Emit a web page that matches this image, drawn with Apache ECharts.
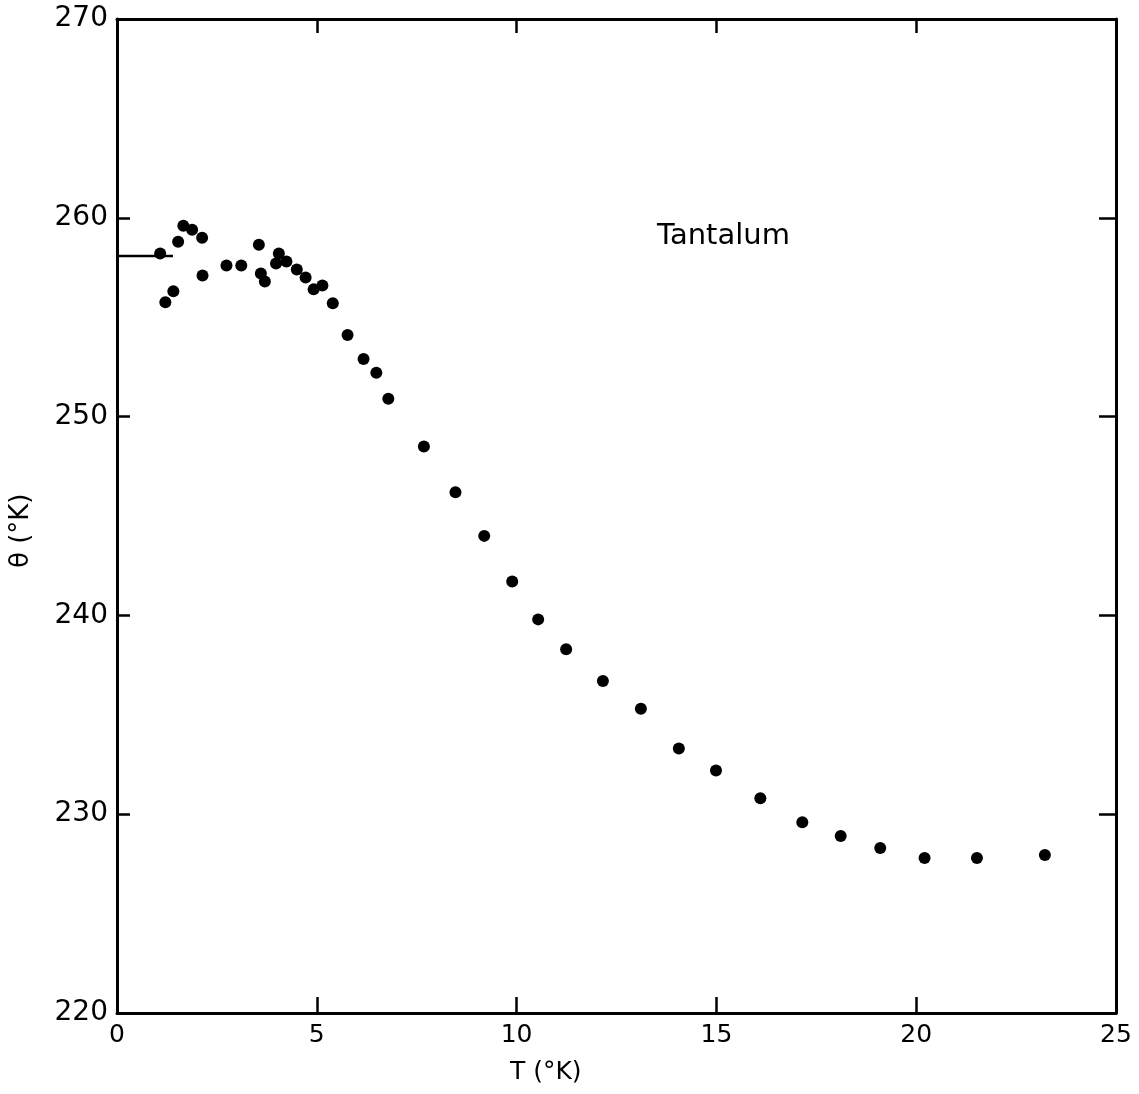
<!DOCTYPE html>
<html>
<head>
<meta charset="utf-8">
<script src="https://cdn.jsdelivr.net/npm/echarts@6/dist/echarts.min.js"></script>
<style>
html,body{margin:0;padding:0;background:#fff;}
#chart{width:1139px;height:1094px;}
</style>
</head>
<body>
<div id="chart"></div>
<script>
// Temperature T (°K)
const tValues = [1.08,1.21,1.41,1.53,1.66,1.88,2.13,2.14,2.74,3.11,3.55,3.60,3.70,3.98,4.05,4.24,4.50,4.72,4.92,5.14,5.40,5.77,6.17,6.49,6.79,7.68,8.47,9.19,9.89,10.54,11.24,12.16,13.11,14.06,14.99,16.10,17.15,18.11,19.10,20.21,21.52,23.22];
// Debye temperature θ (°K)
const thetaValues = [258.2,255.75,256.3,258.8,259.6,259.4,259.0,257.1,257.6,257.6,258.65,257.2,256.8,257.7,258.2,257.8,257.4,257.0,256.4,256.6,255.7,254.1,252.9,252.2,250.9,248.5,246.2,244.0,241.7,239.8,238.3,236.7,235.3,233.3,232.2,230.8,229.6,228.9,228.3,227.8,227.8,227.95];
// θ0 extrapolation mark at T→0
const theta0T = [0, 1.40];
const theta0Value = 258.08;
const xTicks = [0,5,10,15,20,25];
const yTicks = [220,230,240,250,260,270];

const points = tValues.map((t,i)=>[t, thetaValues[i]]);
const theta0Line = theta0T.map(t=>[t, theta0Value]);

const font = 'DejaVu Sans';
const chart = echarts.init(document.getElementById('chart'), null, {renderer:'canvas'});
const axisLine = {show:true, onZero:false, lineStyle:{color:'#000', width:3}};
chart.setOption({
  backgroundColor:'#fff',
  animation:false,
  grid:{left:117, right:23, top:19, bottom:81, show:false},
  xAxis:[{
    type:'value', min:xTicks[0], max:xTicks[xTicks.length-1], interval:5,
    position:'bottom',
    axisLine:axisLine,
    axisTick:{show:true, inside:true, length:16, lineStyle:{color:'#000', width:2.5}},
    axisLabel:{color:'#000', fontFamily:font, fontSize:25, margin:10},
    splitLine:{show:false}
  },{
    type:'value', min:xTicks[0], max:xTicks[xTicks.length-1], interval:5,
    position:'top',
    axisLine:axisLine,
    axisTick:{show:true, inside:true, length:14, lineStyle:{color:'#000', width:2.5}},
    axisLabel:{show:false},
    splitLine:{show:false}
  }],
  yAxis:[{
    type:'value', min:yTicks[0], max:yTicks[yTicks.length-1], interval:10,
    position:'left',
    axisLine:axisLine,
    axisTick:{show:true, inside:true, length:13, lineStyle:{color:'#000', width:2.5}},
    axisLabel:{color:'#000', fontFamily:font, fontSize:28, margin:9},
    splitLine:{show:false}
  },{
    type:'value', min:yTicks[0], max:yTicks[yTicks.length-1], interval:10,
    position:'right',
    axisLine:axisLine,
    axisTick:{show:true, inside:true, length:17, lineStyle:{color:'#000', width:2.5}},
    axisLabel:{show:false},
    splitLine:{show:false}
  }],
  series:[{
    type:'scatter',
    data:points,
    symbol:'circle',
    symbolSize:12,
    itemStyle:{color:'#000', opacity:1}
  },{
    type:'line',
    data:theta0Line,
    showSymbol:false,
    lineStyle:{color:'#000', width:2.5}
  }],
  graphic:[{
    type:'text', left:657, top:222,
    style:{text:'Tantalum', fill:'#000', font:'29px "DejaVu Sans"'}
  },{
    type:'text', left:510, top:1060,
    style:{text:'T (°K)', fill:'#000', font:'25px "DejaVu Sans"'}
  },{
    type:'text', x:8, y:568, rotation:Math.PI/2,
    style:{text:'θ (°K)', fill:'#000', font:'26px "DejaVu Sans"', textVerticalAlign:'top'}
  }]
});
</script>
</body>
</html>
